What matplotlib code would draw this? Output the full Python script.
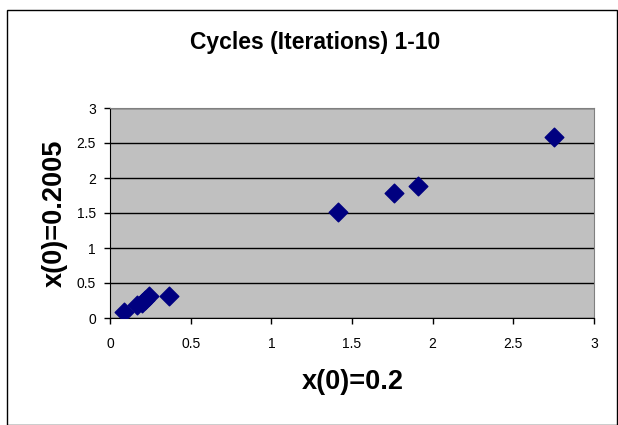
import matplotlib.pyplot as plt
from matplotlib.patches import Rectangle

plt.rcParams['font.family'] = ['Liberation Sans', 'DejaVu Sans']

# values for x(0)=0.2 and x(0)=0.2005, cycles 1-10
x_02 = [0.085, 0.17, 0.20, 0.22, 0.24, 0.365, 1.415, 1.76, 1.91, 2.75]
x_02005 = [0.09, 0.185, 0.21, 0.26, 0.32, 0.31, 1.52, 1.79, 1.88, 2.58]

fig = plt.figure(figsize=(6.18, 4.25), dpi=100)
fig.patches.append(Rectangle((7 / 618, 0), 610 / 618, 415 / 425, transform=fig.transFigure,
                             fill=False, edgecolor='black', linewidth=1))

ax = fig.add_axes([110 / 618, 107 / 425, 484 / 618, 210 / 425])
ax.set_facecolor('#C0C0C0')
ax.scatter(x_02, x_02005, marker='D', s=90, color='#000080', zorder=3)

ax.set_xlim(0, 3)
ax.set_ylim(0, 3)
ax.set_xticks([0, 0.5, 1, 1.5, 2, 2.5, 3])
ax.set_xticklabels(['0', '0.5', '1', '1.5', '2', '2.5', '3'])
ax.set_yticks([0, 0.5, 1, 1.5, 2, 2.5, 3])
ax.set_yticklabels(['0', '0.5', '1', '1.5', '2', '2.5', '3'])
ax.yaxis.grid(True, color='black', linewidth=1)
ax.set_axisbelow(True)
ax.tick_params(labelsize=10, length=4, width=1)
ax.tick_params(axis='x', pad=10)
ax.tick_params(axis='y', pad=6)

for side in ['top', 'right']:
    ax.spines[side].set_color('#808080')
for side in ['left', 'bottom']:
    ax.spines[side].set_color('black')

fig.text(315 / 618, 1 - 42 / 425, 'Cycles (Iterations) 1-10', ha='center', va='center',
         fontsize=16.5, fontweight='bold')
fig.text(353 / 618, 1 - 382 / 425, 'x(0)=0.2', ha='center', va='center',
         fontsize=19.5, fontweight='bold')
fig.text(55 / 618, 1 - 213 / 425, 'x(0)=0.2005', ha='center', va='center',
         fontsize=19.5, fontweight='bold', rotation=90)

fig.savefig('out.png', dpi=100)
